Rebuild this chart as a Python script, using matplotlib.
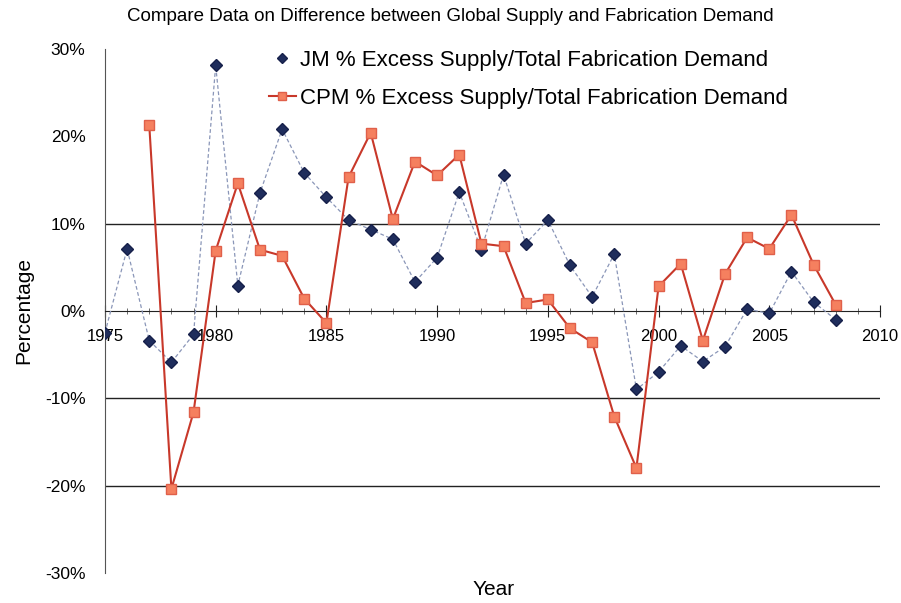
import matplotlib
matplotlib.use("Agg")
import matplotlib.pyplot as plt
from matplotlib.lines import Line2D
from matplotlib.ticker import MultipleLocator, FuncFormatter

plt.rcParams['font.family'] = ['Liberation Sans', 'DejaVu Sans']

# JM series, 1975-2008 (percent)
jm_years = list(range(1975, 2009))
jm_values = [-2.5, 7.1, -3.4, -5.9, -2.7, 28.1, 2.9, 13.5, 20.8, 15.8,
             13.0, 10.4, 9.3, 8.2, 3.3, 6.1, 13.6, 7.0, 15.6, 7.7,
             10.4, 5.2, 1.6, 6.5, -9.0, -7.0, -4.0, -5.8, -4.1, 0.2,
             -0.3, 4.5, 1.0, -1.0]

# CPM series, 1977-2008 (percent)
cpm_years = list(range(1977, 2009))
cpm_values = [21.3, -20.4, -11.6, 6.9, 14.6, 7.0, 6.3, 1.4, -1.4, 15.3,
              20.4, 10.5, 17.1, 15.5, 17.9, 7.7, 7.4, 0.9, 1.3, -2.0,
              -3.6, -12.1, -18.0, 2.8, 5.4, -3.4, 4.2, 8.4, 7.1, 11.0,
              5.3, 0.7]

grid_levels = [10, -10, -20]

jm_label = 'JM % Excess Supply/Total Fabrication Demand'
cpm_label = 'CPM % Excess Supply/Total Fabrication Demand'


def main():
    fig = plt.figure(figsize=(9.01, 6.03), dpi=100)
    ax = fig.add_axes([0.1165, 0.050, 0.8602, 0.869])

    for g in grid_levels:
        ax.axhline(g, color='#222222', lw=1.0, zorder=1)

    ax.plot(jm_years, jm_values, color='#8a96b8', lw=0.9, ls=(0, (3, 2)),
            marker='D', markersize=6.5, markerfacecolor='#1f2d5c',
            markeredgecolor='#16204a', zorder=3)
    ax.plot(cpm_years, cpm_values, color='#c8382a', lw=1.5,
            marker='s', markersize=7, markerfacecolor='#f5805f',
            markeredgecolor='#e0604a', zorder=4)

    ax.set_xlim(1975, 2010)
    ax.set_ylim(-30, 30)

    ax.spines['top'].set_visible(False)
    ax.spines['right'].set_visible(False)
    ax.spines['bottom'].set_position(('data', 0))
    ax.spines['bottom'].set_color('#222222')
    ax.spines['left'].set_color('#555555')
    ax.spines['left'].set_linewidth(0.8)

    ax.xaxis.set_major_locator(MultipleLocator(5))
    ax.xaxis.set_minor_locator(MultipleLocator(1))
    ax.tick_params(axis='x', which='major', direction='inout', length=8,
                   labelsize=12, pad=9, color='#222222')
    ax.tick_params(axis='x', which='minor', direction='inout', length=5,
                   color='#555555')

    ax.yaxis.set_major_locator(MultipleLocator(10))
    ax.yaxis.set_major_formatter(FuncFormatter(lambda v, p: f'{v:.0f}%'))
    ax.tick_params(axis='y', length=0, labelsize=12.5, pad=14)

    fig.text(0.5, 0.972, 'Compare Data on Difference between Global Supply and Fabrication Demand',
             ha='center', va='center', fontsize=13.5)
    fig.text(0.026, 0.485, 'Percentage', rotation=90, ha='center', va='center', fontsize=15)
    fig.text(0.548, 0.022, 'Year', ha='center', va='center', fontsize=15)

    handles = [
        Line2D([], [], ls='none', marker='D', markersize=5,
               markerfacecolor='#1f2d5c', markeredgecolor='#16204a'),
        Line2D([], [], color='#c8382a', lw=1.5, marker='s', markersize=6,
               markerfacecolor='#f5805f', markeredgecolor='#e0604a'),
    ]
    ax.legend(handles, [jm_label, cpm_label], loc='upper left',
              bbox_to_anchor=(0.2, 1.015), frameon=False,
              fontsize=16, handlelength=1.2, handletextpad=0.2, labelspacing=0.75,
              borderaxespad=0)

    fig.savefig('out.png', dpi=100)


if __name__ == "__main__":
    main()
